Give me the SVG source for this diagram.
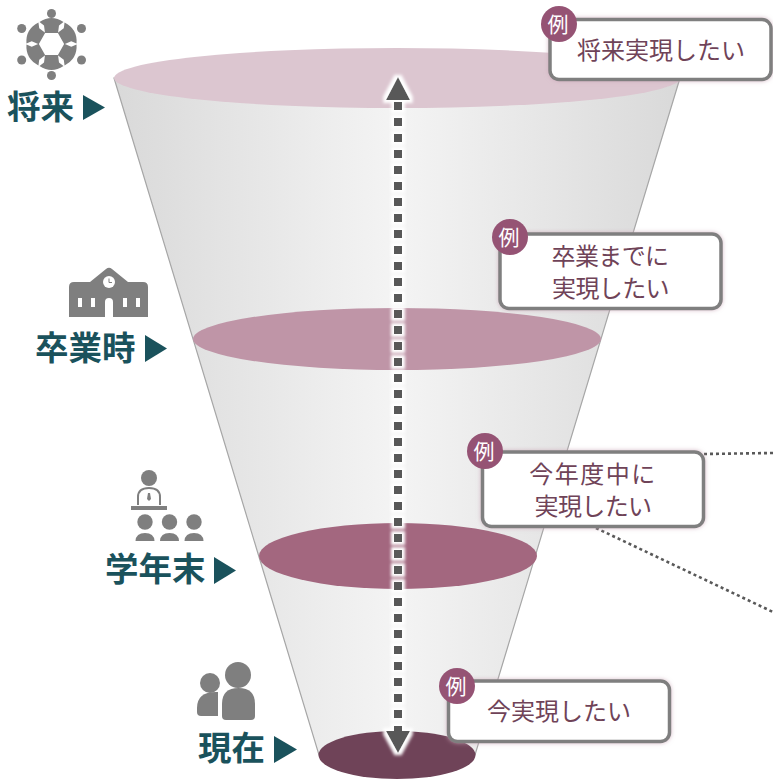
<svg xmlns="http://www.w3.org/2000/svg" xmlns:xlink="http://www.w3.org/1999/xlink" width="773" height="779" viewBox="0 0 773 779">
<style>
.lab{font-family:"Noto Sans CJK JP","Noto Sans",sans-serif;font-weight:700;font-size:33.500px;fill:#1a525c}
.tri{fill:#1a525c}
.ic{fill:#7f7f7f}
.box{fill:#fff;stroke:#7f7f7f;stroke-width:3.500;filter:url(#pink)}
.bt{font-family:"Noto Sans CJK JP","Noto Sans",sans-serif;font-weight:400;font-size:24px;fill:#6f4358;text-anchor:middle}
.bd{fill:#955374}
.bdt{font-family:"Noto Sans CJK JP","Noto Sans",sans-serif;font-weight:400;font-size:21px;fill:#fff;text-anchor:middle}
.dot{fill:none;stroke:#595959;stroke-width:2.600;stroke-dasharray:3 3}
</style>
<defs>
<linearGradient id="cone" gradientUnits="userSpaceOnUse" x1="114" y1="0" x2="680" y2="0">
<stop offset="0" stop-color="#d9d9d9"/><stop offset=".5" stop-color="#f4f4f4"/><stop offset="1" stop-color="#d9d9d9"/>
</linearGradient>
<filter id="pink" x="-10%" y="-15%" width="120%" height="130%">
<feGaussianBlur in="SourceAlpha" stdDeviation="2" result="b"/>
<feFlood flood-color="#c9a6b6" flood-opacity=".75"/><feComposite in2="b" operator="in" result="g"/>
<feMerge><feMergeNode in="g"/><feMergeNode in="SourceGraphic"/></feMerge>
</filter>
<filter id="glow" filterUnits="userSpaceOnUse" x="370" y="60" width="56" height="710">
<feMorphology in="SourceAlpha" operator="dilate" radius="3" result="d"/>
<feGaussianBlur in="d" stdDeviation="1.500" result="b"/>
<feFlood flood-color="#fff"/><feComposite in2="b" operator="in" result="g"/>
<feMerge><feMergeNode in="g"/><feMergeNode in="SourceGraphic"/></feMerge>
</filter>
<path id="mp" d="M-12-22 Q0-30 12-22 L7.500-18.500 L6.500-11 H-6.500 L-7.500-18.500 Z"/>
</defs>

<g id="funnel">
<path d="M114 78 L680 78 L475 755 L319 755 Z" fill="url(#cone)" stroke="#a6a6a6" stroke-width="1.200"/>
<ellipse cx="397" cy="78" rx="283" ry="30" fill="#dcc6d0"/>
<ellipse cx="397" cy="339" rx="204" ry="31" fill="#bf95a7"/>
<ellipse cx="398" cy="556" rx="139" ry="33" fill="#a3677f"/>
<ellipse cx="397" cy="755" rx="78.500" ry="24" fill="#6f4358"/>
</g>

<g id="connectors">
<g filter="url(#glow)">
<path d="M398 102 V734" fill="none" stroke="#595959" stroke-width="8" stroke-dasharray="8 8"/>
<polygon points="398,77 410,100 386,100" fill="#595959"/>
<polygon points="398,753 410,731 386,731" fill="#595959"/>
</g>
<path class="dot" d="M704 454 L773 453"/>
<path class="dot" d="M596 528 L773 612"/>
</g>

<g id="label-future">
<g class="ic">
<circle cx="51.500" cy="13.500" r="4.500"/><circle cx="21.700" cy="28.500" r="4.500"/><circle cx="81.500" cy="28.500" r="4.500"/><circle cx="21.700" cy="60" r="4.500"/><circle cx="81.500" cy="60" r="4.500"/><circle cx="51.500" cy="75.500" r="4.500"/>
<use xlink:href="#mp" transform="translate(51.500 44)"/>
<use xlink:href="#mp" transform="translate(51.500 44) rotate(60)"/>
<use xlink:href="#mp" transform="translate(51.500 44) rotate(120)"/>
<use xlink:href="#mp" transform="translate(51.500 44) rotate(180)"/>
<use xlink:href="#mp" transform="translate(51.500 44) rotate(240)"/>
<use xlink:href="#mp" transform="translate(51.500 44) rotate(300)"/>
</g>
<text class="lab" x="7" y="119">将来</text>
<polygon class="tri" points="83,95 105,107.500 83,120"/>
</g>

<g id="label-graduation">
<path class="ic" d="M69 287 Q69 282 74 282 H90 L106 269 Q109 266.500 112 269 L128 282 H143 Q148 282 148 287 V317 H113 V302 Q113 298 109 298 Q105 298 105 302 V317 H69 Z"/>
<circle cx="109" cy="282" r="6" fill="#fff"/>
<path d="M109 278.500 V282.500 H112" fill="none" stroke="#7f7f7f" stroke-width="1"/>
<g fill="#fff"><rect x="78" y="298" width="4" height="9"/><rect x="91" y="298" width="4" height="9"/><rect x="123" y="298" width="4" height="9"/><rect x="136" y="298" width="4" height="9"/></g>
<text class="lab" x="35" y="360">卒業時</text>
<polygon class="tri" points="145,335 167,348.500 145,362"/>
</g>

<g id="label-yearend">
<circle class="ic" cx="149" cy="478" r="8"/>
<path d="M138 505 V497 Q138 488 149 488 Q160 488 160 497 V505" fill="none" stroke="#7f7f7f" stroke-width="2"/>
<path class="ic" d="M148 493 H150 L151 499 L149 501 L147 499 Z"/>
<rect class="ic" x="131" y="506" width="36" height="4"/>
<g class="ic">
<circle cx="145" cy="522" r="7.700"/><circle cx="169.500" cy="522" r="7.700"/><circle cx="194" cy="522" r="7.700"/>
<path d="M135.500 541 Q136 533 145 533 Q154 533 154.500 541 Z"/>
<path d="M160 541 Q160.500 533 169.500 533 Q178.500 533 179 541 Z"/>
<path d="M184.500 541 Q185 533 194 533 Q203 533 203.500 541 Z"/>
</g>
<text class="lab" x="105" y="581">学年末</text>
<polygon class="tri" points="214,557 236,570.500 214,584"/>
</g>

<g id="label-now">
<g class="ic">
<circle cx="238" cy="675" r="13"/>
<path d="M222 704 Q222 688 238.500 688 Q255 688 255 704 V716 Q255 720 251 720 H226 Q222 720 222 716 Z"/>
<circle cx="210" cy="683" r="10"/>
<path d="M218 692 Q197 691 197 708 V712 Q197 716 201 716 H218 Z"/>
</g>
<text class="lab" x="198" y="760">現在</text>
<polygon class="tri" points="274,736 297,749.500 274,763"/>
</g>

<g id="box-future">
<rect class="box" x="550" y="19.500" width="221" height="60" rx="9"/>
<text class="bt" x="661" y="59">将来実現したい</text>
<circle class="bd" cx="559" cy="24" r="18"/><text class="bdt" x="558" y="32">例</text>
</g>
<g id="box-graduation">
<rect class="box" x="500" y="234" width="221" height="74.500" rx="9"/>
<text class="bt" x="610" y="265" letter-spacing="-.6">卒業までに</text>
<text class="bt" x="610.500" y="297" letter-spacing="-.6">実現したい</text>
<circle class="bd" cx="510" cy="237" r="18"/><text class="bdt" x="509" y="245">例</text>
</g>
<g id="box-yearend">
<rect class="box" x="482.500" y="452" width="221" height="74.500" rx="9"/>
<text class="bt" x="593" y="483" letter-spacing="1.500">今年度中に</text>
<text class="bt" x="593" y="515" letter-spacing="-.6">実現したい</text>
<circle class="bd" cx="485" cy="451" r="18"/><text class="bdt" x="484" y="459">例</text>
</g>
<g id="box-now">
<rect class="box" x="448.500" y="681" width="221" height="60.500" rx="9"/>
<text class="bt" x="559" y="720">今実現したい</text>
<circle class="bd" cx="457" cy="686" r="18"/><text class="bdt" x="456" y="694">例</text>
</g>
</svg>
